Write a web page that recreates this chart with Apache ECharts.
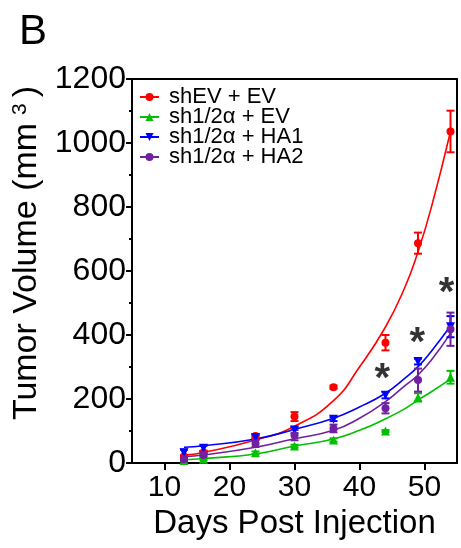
<!DOCTYPE html>
<html>
<head>
<meta charset="utf-8">
<script src="https://cdn.jsdelivr.net/npm/echarts@6/dist/echarts.min.js"></script>
<style>
  html, body { margin: 0; padding: 0; background: #fff; }
  #chart { width: 461px; height: 548px; }
</style>
</head>
<body>
<div id="chart"></div>
<script>
// measurement days (points)
const days = [13, 16, 24, 30, 36, 44, 49, 54];

// tumor volume means and errors, per group
const shEV_EV = [20, 33, 84, 145, 237, 376, 687, 1036];
const shEV_EV_err = [4, 4, 6, 14, 5, 24, 33, 65];
const sh_EV = [8, 12, 32, 53, 72, 100, 205, 268];
const sh_EV_err = [3, 3, 4, 4, 5, 3, 13, 20];
const sh_HA1 = [32, 46, 80, 103, 137, 212, 317, 426];
const sh_HA1_err = [10, 8, 6, 10, 6, 10, 9, 33];
const sh_HA2 = [12, 25, 61, 87, 108, 171, 259, 418];
const sh_HA2_err = [5, 5, 11, 16, 12, 16, 36, 52];

// fitted curves
const fitDays = [13, 16, 24, 30, 36, 40, 44, 47, 49, 51, 54];
const fit_shEV_EV = [25, 33, 72, 115, 195, 300, 425, 550, 660, 795, 1036];
const fit_sh_EV = [10, 14, 28, 53, 75, 102, 138, 170, 197, 222, 262];
const fit_sh_HA1 = [49, 54, 75, 105, 140, 175, 218, 265, 301, 348, 428];
const fit_sh_HA2 = [20, 25, 49, 76, 102, 140, 192, 242, 275, 320, 405];

// significance marks
const starDays = [43.5, 48.9, 53.4];
const starVals = [258, 372, 528];

const xTicks = [10, 20, 30, 40, 50];
const groupNames = ['shEV + EV', 'sh1/2α + EV', 'sh1/2α + HA1', 'sh1/2α + HA2'];

const FONT = 'Liberation Sans, Arial, sans-serif';

const zip = (xs, ys) => xs.map((x, i) => [x, ys[i]]);
const bars = (vals, errs) => days.map((d, i) => [d, vals[i] - errs[i], vals[i] + errs[i]]);

function errorBarItem(params, api) {
  const x = api.value(0);
  const lo = api.coord([x, api.value(1)]);
  const hi = api.coord([x, api.value(2)]);
  const half = 4;
  const style = { stroke: api.visual('color'), lineWidth: 2 };
  return {
    type: 'group',
    children: [
      { type: 'line', shape: { x1: hi[0], y1: hi[1], x2: lo[0], y2: lo[1] }, style },
      { type: 'line', shape: { x1: hi[0] - half, y1: hi[1], x2: hi[0] + half, y2: hi[1] }, style },
      { type: 'line', shape: { x1: lo[0] - half, y1: lo[1], x2: lo[0] + half, y2: lo[1] }, style }
    ]
  };
}

const groups = [
  { name: groupNames[0], color: '#ff0000', symbol: 'circle', rotate: 0, size: 8, fit: fit_shEV_EV, vals: shEV_EV, errs: shEV_EV_err },
  { name: groupNames[1], color: '#00c000', symbol: 'triangle', rotate: 0, size: 9, fit: fit_sh_EV, vals: sh_EV, errs: sh_EV_err },
  { name: groupNames[2], color: '#0000ff', symbol: 'triangle', rotate: 180, size: 9, fit: fit_sh_HA1, vals: sh_HA1, errs: sh_HA1_err },
  { name: groupNames[3], color: '#7020a0', symbol: 'circle', rotate: 0, size: 8, fit: fit_sh_HA2, vals: sh_HA2, errs: sh_HA2_err }
];

const series = [];
groups.forEach(g => {
  series.push({
    name: g.name,
    type: 'line',
    data: zip(fitDays, g.fit),
    smooth: 0.5,
    showSymbol: false,
    symbol: g.symbol,
    symbolRotate: g.rotate,
    lineStyle: { color: g.color, width: 1.6 },
    itemStyle: { color: g.color },
    silent: true,
    z: 3
  });
});
groups.forEach(g => {
  series.push({
    name: g.name,
    type: 'custom',
    renderItem: errorBarItem,
    data: bars(g.vals, g.errs),
    encode: { x: 0, y: [1, 2] },
    itemStyle: { color: g.color },
    silent: true,
    z: 4
  });
  series.push({
    name: g.name,
    type: 'scatter',
    data: zip(days, g.vals),
    symbol: g.symbol,
    symbolRotate: g.rotate,
    symbolSize: g.size,
    itemStyle: { color: g.color, opacity: 1 },
    silent: true,
    z: 5
  });
});
series.push({
  type: 'scatter',
  data: zip(starDays, starVals),
  symbolSize: 1,
  itemStyle: { color: 'rgba(0,0,0,0)' },
  label: {
    show: true,
    position: 'inside',
    formatter: '*',
    fontSize: 40,
    fontWeight: 'bold',
    color: '#000',
    fontFamily: FONT
  },
  silent: true,
  z: 6
});

const chart = echarts.init(document.getElementById('chart'), null, { renderer: 'canvas' });
chart.setOption({
  animation: false,
  textStyle: { fontFamily: FONT, color: '#000' },
  title: {
    text: 'B',
    left: 14,
    top: 6,
    textStyle: { fontSize: 42, fontWeight: 'normal', color: '#000', fontFamily: FONT }
  },
  legend: {
    data: groupNames,
    orient: 'vertical',
    left: 139,
    top: 86,
    padding: 0,
    itemWidth: 19,
    itemHeight: 10,
    itemGap: -2,
    textStyle: { fontSize: 22, lineHeight: 20, color: '#000', fontFamily: FONT, padding: [0, 0, 0, 5] }
  },
  grid: {
    left: 132,
    top: 79,
    right: 4,
    bottom: 85,
    show: true,
    borderColor: '#000',
    borderWidth: 2,
    backgroundColor: 'transparent'
  },
  xAxis: {
    type: 'value',
    min: 5,
    max: 55,
    name: 'Days Post Injection',
    nameLocation: 'middle',
    nameGap: 44,
    nameTextStyle: { fontSize: 33, color: '#000', fontFamily: FONT },
    axisLine: { show: true, lineStyle: { color: '#000', width: 2 } },
    axisTick: { show: true, length: 7, lineStyle: { width: 2, color: '#000' }, customValues: xTicks },
    axisLabel: { fontSize: 30, color: '#000', margin: 10, fontFamily: FONT, customValues: xTicks },
    splitLine: { show: false }
  },
  yAxis: {
    type: 'value',
    min: 0,
    max: 1200,
    interval: 200,
    name: '{n|Tumor Volume (mm}{s|3}{n|)}',
    nameLocation: 'middle',
    nameGap: 63,
    nameTextStyle: {
      fontSize: 34,
      color: '#000',
      fontFamily: FONT,
      padding: [0, 0, 0, 36],
      rich: {
        n: { fontSize: 34, fontFamily: FONT, color: '#000' },
        s: { fontSize: 21, fontFamily: FONT, color: '#000', verticalAlign: 'top', padding: [0, 6, 0, 8] }
      }
    },
    axisLine: { show: true, lineStyle: { color: '#000', width: 2 } },
    axisTick: { show: true, length: 6, lineStyle: { width: 2, color: '#000' } },
    minorTick: { show: true, splitNumber: 2, length: 3, lineStyle: { width: 2, color: '#000' } },
    axisLabel: { fontSize: 32, color: '#000', margin: 6, fontFamily: FONT, formatter: v => String(v) },
    splitLine: { show: false },
    minorSplitLine: { show: false }
  },
  series: series
});
</script>
</body>
</html>
